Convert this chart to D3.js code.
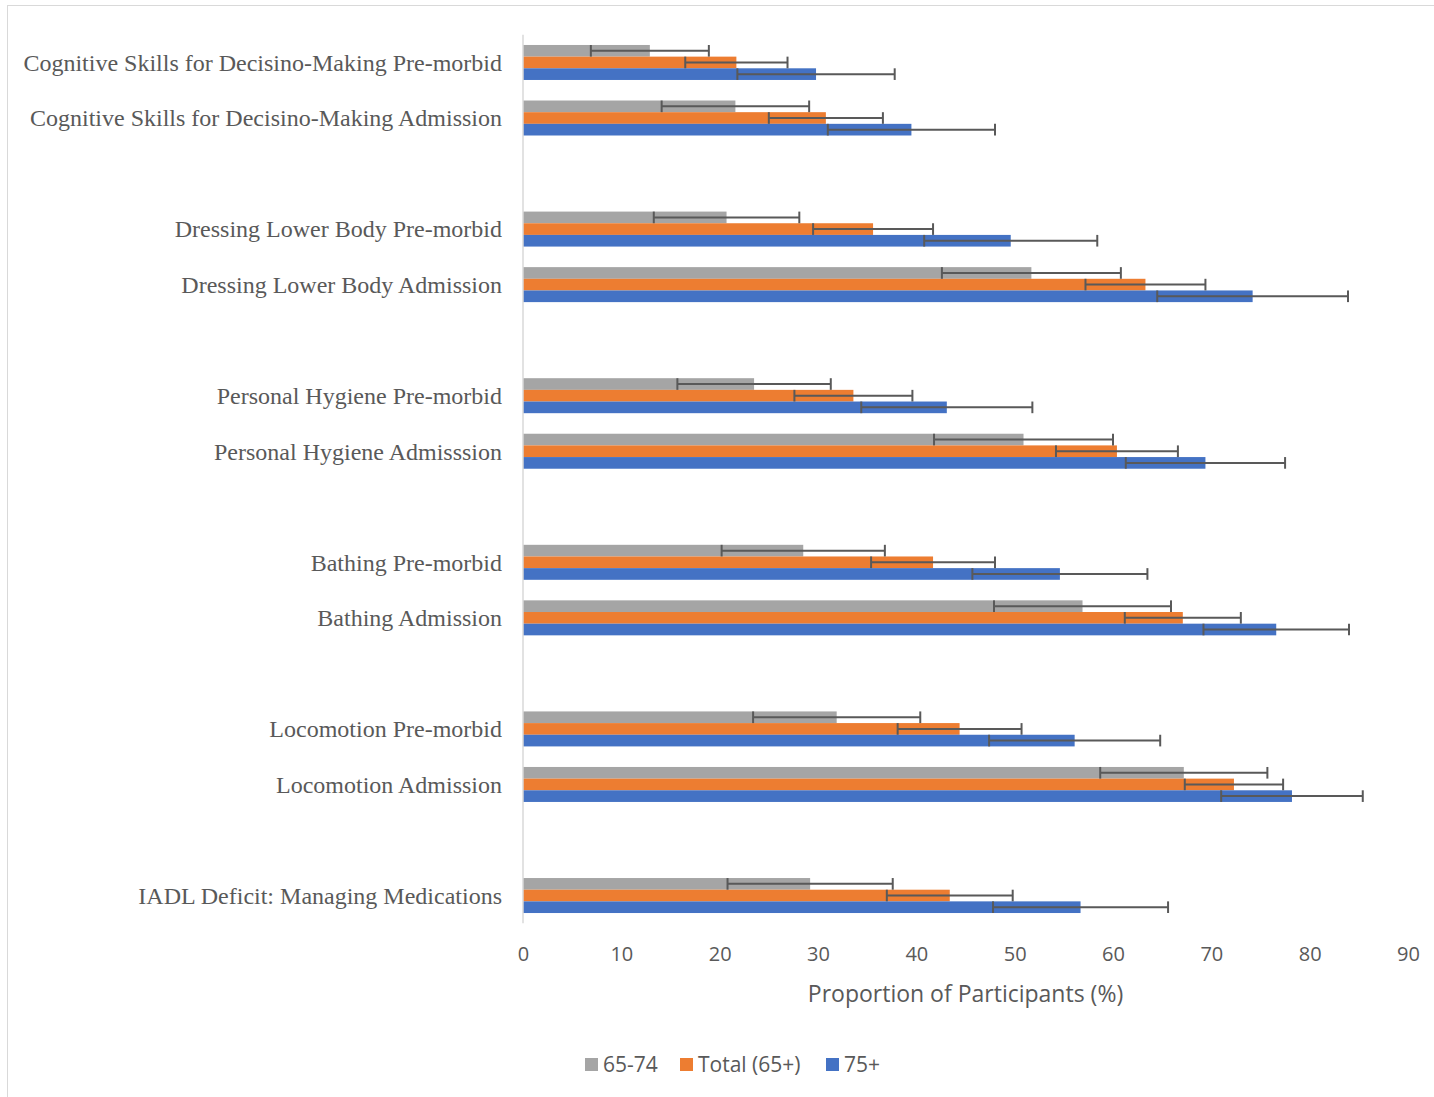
<!DOCTYPE html>
<html>
<head>
<meta charset="utf-8">
<script src="https://cdn.jsdelivr.net/npm/d3@7"></script>
<style>
  html, body { margin: 0; padding: 0; background: #ffffff; }
  svg { display: block; }
</style>
</head>
<body>
<svg id="chart" width="1434" height="1097"></svg>
<script>
// ---------------- DATA ----------------
const categories = [
  "Cognitive Skills for Decisino-Making Pre-morbid",
  "Cognitive Skills for Decisino-Making Admission",
  "Dressing Lower Body Pre-morbid",
  "Dressing Lower Body Admission",
  "Personal Hygiene Pre-morbid",
  "Personal Hygiene Admisssion",
  "Bathing Pre-morbid",
  "Bathing Admission",
  "Locomotion Pre-morbid",
  "Locomotion Admission",
  "IADL Deficit: Managing Medications"
];
// empty spacer slots follow these category indices
const gapAfter = [1, 3, 5, 7, 9];

const seriesNames = ["65-74", "Total (65+)", "75+"];
const seriesColors = ["#A5A5A5", "#ED7D31", "#4472C4"];

const values6574  = [12.9, 21.6, 20.7, 51.7, 23.5, 50.9, 28.5, 56.9, 31.9, 67.2, 29.2];
const valuesTotal = [21.7, 30.8, 35.6, 63.3, 33.6, 60.4, 41.7, 67.1, 44.4, 72.3, 43.4];
const values75    = [29.8, 39.5, 49.6, 74.2, 43.1, 69.4, 54.6, 76.6, 56.1, 78.2, 56.7];

const err6574  = [6.0, 7.5, 7.4, 9.1, 7.8, 9.1, 8.3, 9.0, 8.5, 8.5, 8.4];
const errTotal = [5.2, 5.8, 6.1, 6.1, 6.0, 6.2, 6.3, 5.9, 6.3, 5.0, 6.4];
const err75    = [8.0, 8.5, 8.8, 9.7, 8.7, 8.1, 8.9, 7.4, 8.7, 7.2, 8.9];

const xTicks = [0, 10, 20, 30, 40, 50, 60, 70, 80, 90];
const xTitle = "Proportion of Participants (%)";

// ---------------- LAYOUT ----------------
const svg = d3.select("#chart");
const plot = { left: 523, right: 1408, top: 34.7, bottom: 923.3 };

// outer frame
svg.append("rect")
  .attr("x", 7.5).attr("y", 5.5)
  .attr("width", 1440).attr("height", 1100)
  .attr("fill", "none").attr("stroke", "#d9d9d9").attr("stroke-width", 1);

// band domain with spacer slots
const domain = [];
categories.forEach((c, i) => {
  domain.push("c" + i);
  if (gapAfter.includes(i)) domain.push("gap" + i);
});

const y = d3.scaleBand()
  .domain(domain)
  .range([plot.top, plot.bottom])
  .paddingInner(0.37)
  .paddingOuter(0.185);

const x = d3.scaleLinear().domain([0, 90]).range([plot.left, plot.right]);

const ySub = d3.scaleBand()
  .domain(seriesNames)
  .range([0, y.bandwidth()]);

const seriesVals = [values6574, valuesTotal, values75];
const seriesErr = [err6574, errTotal, err75];

const rows = [];
categories.forEach((c, i) => {
  seriesNames.forEach((s, k) => {
    rows.push({ cat: "c" + i, series: s, k: k, v: seriesVals[k][i], e: seriesErr[k][i] });
  });
});

// bars
svg.append("g").selectAll("rect")
  .data(rows)
  .join("rect")
  .attr("x", x(0))
  .attr("y", d => y(d.cat) + ySub(d.series))
  .attr("width", d => x(d.v) - x(0))
  .attr("height", ySub.bandwidth())
  .attr("fill", d => seriesColors[d.k]);

// vertical category axis line
svg.append("line")
  .attr("x1", x(0)).attr("x2", x(0))
  .attr("y1", plot.top).attr("y2", plot.bottom)
  .attr("stroke", "#d9d9d9").attr("stroke-width", 1.5);

// error bars
const eg = svg.append("g").attr("stroke", "#595959").attr("stroke-width", 2).attr("fill", "none");
rows.forEach(d => {
  const cy = y(d.cat) + ySub(d.series) + ySub.bandwidth() / 2;
  const half = ySub.bandwidth() / 2;
  const x1 = x(d.v - d.e), x2 = x(d.v + d.e);
  eg.append("line").attr("x1", x1).attr("x2", x2).attr("y1", cy).attr("y2", cy);
  eg.append("line").attr("x1", x1).attr("x2", x1).attr("y1", cy - half).attr("y2", cy + half);
  eg.append("line").attr("x1", x2).attr("x2", x2).attr("y1", cy - half).attr("y2", cy + half);
});

// category labels
svg.append("g").selectAll("text")
  .data(categories)
  .join("text")
  .attr("x", 502)
  .attr("y", (d, i) => y("c" + i) + y.bandwidth() / 2)
  .attr("dy", "0.35em")
  .attr("text-anchor", "end")
  .attr("font-family", "'Liberation Serif', 'Times New Roman', serif")
  .attr("font-size", 24)
  .attr("fill", "#595959")
  .text(d => d);

// x axis (labels only)
const xAxis = d3.axisBottom(x).tickValues(xTicks).tickSize(0).tickPadding(0);
const xg = svg.append("g").attr("transform", `translate(0, 947)`).call(xAxis);
xg.select(".domain").remove();
xg.selectAll("text")
  .attr("font-family", "'Open Sans', sans-serif")
  .attr("font-size", 20)
  .attr("fill", "#595959")
  .attr("dy", "0.71em");

// x title
svg.append("text")
  .attr("x", (plot.left + plot.right) / 2)
  .attr("y", 1002)
  .attr("text-anchor", "middle")
  .attr("font-family", "'Open Sans', sans-serif")
  .attr("font-size", 23)
  .attr("fill", "#595959")
  .text(xTitle);

// legend
const legendX = [585, 680, 826];
const lg = svg.append("g");
seriesNames.forEach((s, k) => {
  lg.append("rect")
    .attr("x", legendX[k]).attr("y", 1058)
    .attr("width", 13).attr("height", 13)
    .attr("fill", seriesColors[k]);
  lg.append("text")
    .attr("x", legendX[k] + 18).attr("y", 1065)
    .attr("dy", "0.35em")
    .attr("font-family", "'Open Sans', sans-serif")
    .attr("font-size", 21)
    .attr("fill", "#595959")
    .text(s);
});
</script>
</body>
</html>
